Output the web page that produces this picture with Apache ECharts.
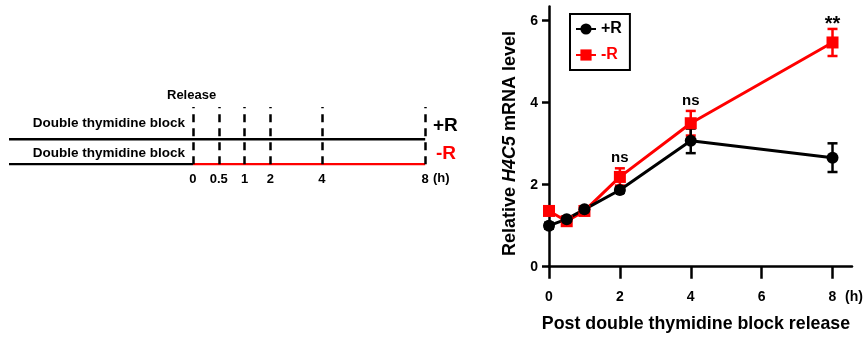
<!DOCTYPE html>
<html>
<head>
<meta charset="utf-8">
<script src="https://cdn.jsdelivr.net/npm/echarts@6/dist/echarts.min.js"></script>
<style>
  html, body { margin: 0; padding: 0; background: #fff; }
  #chart { width: 864px; height: 341px; }
</style>
</head>
<body>
<div id="chart"></div>
<script>
// right panel: H4C5 mRNA after release
const hours = [0, 0.5, 1, 2, 4, 8];
const plusR = [1.00, 1.16, 1.40, 1.87, 3.07, 2.66];
const plusRErr = [0.07, 0.07, 0.06, 0.07, 0.30, 0.35];
const minusR = [1.36, 1.11, 1.36, 2.19, 3.50, 5.47];
const minusRErr = [0.08, 0.06, 0.07, 0.21, 0.30, 0.33];
const sigMarks = ['', '', '', 'ns', 'ns', '**'];
const yTicks = [0, 2, 4, 6];
const xTicks = [0, 2, 4, 6, 8];

// left panel: schematic time line (slot = position along the line)
const schemTimes = ['0', '0.5', '1', '2', '4', '8'];
const schemSlots = [0, 1, 2, 3, 5, 9];

const FONT = 'Liberation Sans';

function errSeries(name, ys, errs, color, marks) {
  return {
    name: name,
    type: 'custom',
    xAxisIndex: 0,
    yAxisIndex: 0,
    silent: true,
    data: hours.map((h, i) => [h, ys[i], errs[i], i]),
    renderItem: function (params, api) {
      const x = api.value(0), y = api.value(1), e = api.value(2), idx = api.value(3);
      const top = api.coord([x, y + e]);
      const bot = api.coord([x, y - e]);
      const w = 5;
      const st = { stroke: color, lineWidth: 2.5 };
      const children = [
        { type: 'line', shape: { x1: top[0], y1: top[1], x2: bot[0], y2: bot[1] }, style: st },
        { type: 'line', shape: { x1: top[0] - w, y1: top[1], x2: top[0] + w, y2: top[1] }, style: st },
        { type: 'line', shape: { x1: bot[0] - w, y1: bot[1], x2: bot[0] + w, y2: bot[1] }, style: st }
      ];
      const m = marks && marks[idx];
      if (m) {
        const star = m === '**';
        children.push({
          type: 'text',
          style: {
            text: m, x: top[0], y: top[1] + (star ? 6 : -3),
            align: 'center', verticalAlign: 'bottom',
            fontFamily: FONT, fontWeight: 'bold', fontSize: star ? 20 : 15, fill: '#000'
          }
        });
      }
      return { type: 'group', children: children };
    }
  };
}

const chart = echarts.init(document.getElementById('chart'), null, { renderer: 'canvas' });

const boldTxt = { fontFamily: FONT, fontWeight: 'bold', color: '#000' };
const boldFill = { fontFamily: FONT, fontWeight: 'bold', fill: '#000' };

chart.setOption({
  animation: false,
  backgroundColor: '#fff',
  textStyle: { fontFamily: FONT },
  grid: [
    { left: 549, right: 12, top: 6.4, bottom: 74.3 },
    { left: 9, right: 413, top: 107, bottom: 176.7 }
  ],
  legend: {
    data: [
      { name: '+R', textStyle: { color: '#000' } },
      { name: '-R', textStyle: { color: '#ff0000' } }
    ],
    orient: 'vertical',
    left: 570,
    top: 14,
    padding: [7, 8, 7, 5],
    itemGap: 10,
    itemWidth: 20,
    itemHeight: 14,
    borderColor: '#000',
    borderWidth: 2,
    textStyle: { fontFamily: FONT, fontWeight: 'bold', fontSize: 16 }
  },
  xAxis: [
    {
      gridIndex: 0,
      type: 'value',
      min: 0,
      max: 8.55,
      name: 'Post double thymidine block release',
      nameLocation: 'middle',
      nameGap: 48,
      nameTextStyle: Object.assign({ fontSize: 17.8, padding: [0, 9, 0, 0] }, boldTxt),
      axisLine: { lineStyle: { color: '#000', width: 2.5 } },
      axisTick: { length: 12, lineStyle: { width: 2.5 }, customValues: xTicks },
      axisLabel: Object.assign({ fontSize: 14, margin: 23, customValues: xTicks }, boldTxt),
      splitLine: { show: false }
    },
    {
      gridIndex: 1,
      type: 'value',
      min: -7.13,
      max: 10,
      axisLine: { show: false },
      axisTick: { show: false },
      splitLine: { show: false },
      axisLabel: Object.assign({
        fontSize: 13, margin: 9, customValues: schemSlots,
        formatter: v => schemTimes[schemSlots.indexOf(Math.round(v))] || ''
      }, boldTxt)
    }
  ],
  yAxis: [
    {
      gridIndex: 0,
      type: 'value',
      min: 0,
      max: 6.35,
      name: '{a|Relative }{b|H4C5}{a| mRNA level}',
      nameLocation: 'middle',
      nameRotate: 90,
      nameGap: 30,
      nameTextStyle: {
        padding: [0, 14, 0, 0],
        rich: {
          a: Object.assign({ fontSize: 18 }, boldTxt),
          b: Object.assign({ fontSize: 18, fontStyle: 'italic' }, boldTxt)
        }
      },
      axisLine: { show: true, lineStyle: { color: '#000', width: 2.5 } },
      axisTick: { show: true, length: 7, lineStyle: { width: 2.5 }, customValues: yTicks },
      axisLabel: Object.assign({ fontSize: 14, margin: 11, customValues: yTicks }, boldTxt),
      splitLine: { show: false }
    },
    {
      gridIndex: 1,
      type: 'value',
      min: 0,
      max: 2.29,
      show: false
    }
  ],
  series: [
    errSeries('-R err', minusR, minusRErr, '#ff0000', sigMarks),
    {
      name: '-R',
      type: 'line',
      xAxisIndex: 0, yAxisIndex: 0,
      data: hours.map((h, i) => [h, minusR[i]]),
      symbol: 'rect',
      symbolSize: 12,
      color: '#ff0000',
      lineStyle: { color: '#ff0000', width: 3 },
      itemStyle: { color: '#ff0000' }
    },
    errSeries('+R err', plusR, plusRErr, '#000', null),
    {
      name: '+R',
      type: 'line',
      xAxisIndex: 0, yAxisIndex: 0,
      data: hours.map((h, i) => [h, plusR[i]]),
      symbol: 'circle',
      symbolSize: 12,
      color: '#000',
      lineStyle: { color: '#000', width: 3 },
      itemStyle: { color: '#000' }
    },
    // schematic lines
    {
      name: 'schem top',
      type: 'line',
      xAxisIndex: 1, yAxisIndex: 1,
      data: [[-7.13, 1], [9, 1]],
      symbol: 'none',
      lineStyle: { color: '#000', width: 2.5 },
      silent: true,
      markLine: {
        silent: true,
        symbol: 'none',
        label: { show: false },
        lineStyle: { color: '#000', width: 2.5, type: [8, 6] },
        data: schemSlots.map(s => ({ xAxis: s }))
      }
    },
    {
      name: 'schem block',
      type: 'line',
      xAxisIndex: 1, yAxisIndex: 1,
      data: [[-7.13, 0], [0, 0]],
      symbol: 'none',
      lineStyle: { color: '#000', width: 2.5 },
      silent: true
    },
    {
      name: 'schem release',
      type: 'line',
      xAxisIndex: 1, yAxisIndex: 1,
      data: [[0, 0], [9, 0]],
      symbol: 'none',
      lineStyle: { color: '#ff0000', width: 2.5 },
      silent: true
    }
  ],
  graphic: [
    { type: 'text', left: 167, top: 89, style: Object.assign({ text: 'Release', fontSize: 13 }, boldFill) },
    { type: 'text', right: 679, top: 116, style: Object.assign({ text: 'Double thymidine block', fontSize: 13.5 }, boldFill) },
    { type: 'text', right: 679, top: 146, style: Object.assign({ text: 'Double thymidine block', fontSize: 13.5 }, boldFill) },
    { type: 'text', left: 433, top: 116, style: Object.assign({ text: '+R', fontSize: 19 }, boldFill) },
    { type: 'text', left: 436, top: 144, style: { text: '-R', fontSize: 19, fontFamily: FONT, fontWeight: 'bold', fill: '#ff0000' } },
    { type: 'text', left: 433, top: 172, style: Object.assign({ text: '(h)', fontSize: 13 }, boldFill) },
    { type: 'text', left: 845, top: 290, style: Object.assign({ text: '(h)', fontSize: 14 }, boldFill) }
  ]
});
</script>
</body>
</html>
